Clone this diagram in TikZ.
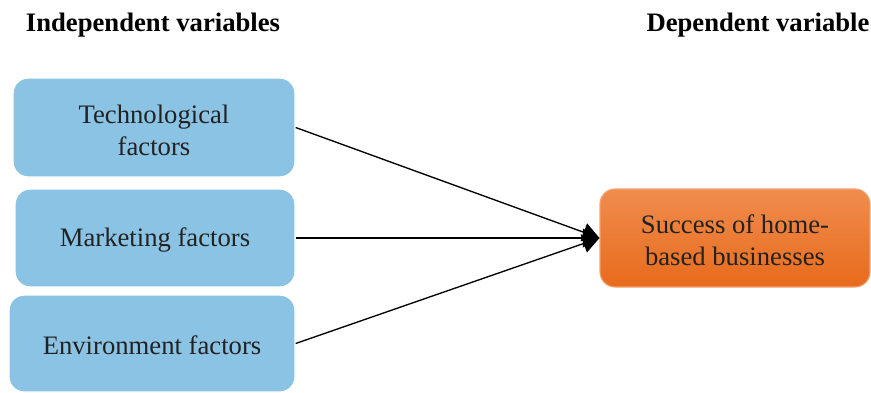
\documentclass[tikz,border=0pt]{standalone}
\usepackage{fontspec}
\setmainfont{Liberation Serif}
\usetikzlibrary{arrows.meta}
\definecolor{boxblue}{HTML}{8BC3E5}
\definecolor{orangetop}{HTML}{F08C4E}
\definecolor{orangebot}{HTML}{E76B1C}
\definecolor{ink}{HTML}{222222}
\begin{document}
\begin{tikzpicture}[x=0.45pt,y=-0.45pt,
  factor/.style={draw=white, line width=0.6pt, fill=boxblue, rounded corners=6.75pt, inner sep=0pt},
  outcome/.style={draw=orangetop!80!white, line width=0.5pt, top color=orangetop, bottom color=orangebot,
    rounded corners=6.75pt, inner sep=0pt},
  boxtext/.style={align=center, text=ink, font=\fontsize{12}{14.4}\selectfont, inner sep=0pt},
  header/.style={font=\fontsize{12}{14.4}\selectfont\bfseries, text=black, inner sep=0pt},
  link/.style={line width=0.6pt, -{Triangle[length=7.5pt,width=8.5pt]}}]
\useasboundingbox (0,0) rectangle (871,392);

% column headings
\node[header] (hind) at (153,25.5) {Independent variables};
\node[header] (hdep) at (758,25.5) {Dependent variable};

% independent factors
\node[factor, minimum width=282*0.45pt, minimum height=99*0.45pt] (tech) at (154,127.5) {};
\node[factor, minimum width=280*0.45pt, minimum height=98*0.45pt] (mark) at (155,238) {};
\node[factor, minimum width=286*0.45pt, minimum height=97*0.45pt] (env) at (152,343.5) {};

% dependent outcome
\node[outcome, minimum width=270*0.45pt, minimum height=98*0.45pt] (succ) at (735,238) {};

% box texts, set slightly below the box centres
\node[boxtext] (techtxt) at ([yshift=-1.1pt]tech.center) {Technological\\factors};
\node[boxtext] (marktxt) at ([yshift=-1.1pt]mark.center) {Marketing factors};
\node[boxtext] (envtxt) at ([yshift=-0.9pt]env.center) {Environment factors};
\node[boxtext] (succtxt) at ([yshift=-1.2pt]succ.center) {Success of home-\\based businesses};

% connectors
\draw[link] (tech.east) -- (succ.west);
\draw[link] (mark.east) -- (succ.west);
\draw[link] (env.east) -- (succ.west);
\end{tikzpicture}
\end{document}
